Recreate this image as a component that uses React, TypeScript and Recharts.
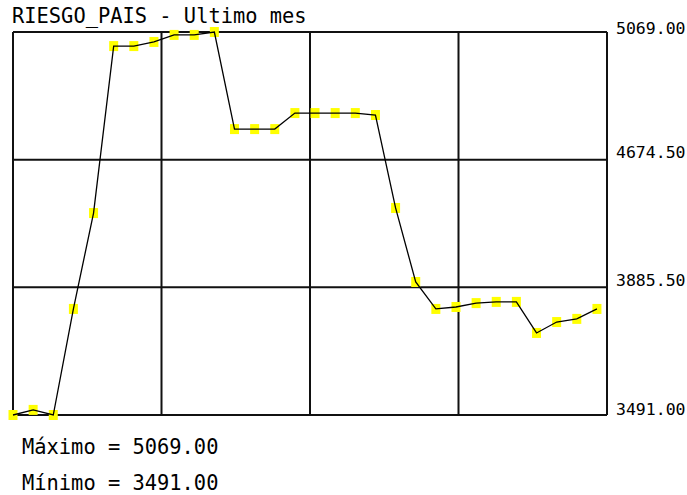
import { LineChart, Line, XAxis, YAxis, CartesianGrid } from 'recharts'

// Riesgo país, último mes (30 ruedas)
const dias = [
  0, 1, 2, 3, 4, 5, 6, 7, 8, 9, 10, 11, 12, 13, 14, 15, 16, 17, 18, 19, 20, 21, 22, 23, 24, 25, 26,
  27, 28, 29,
]
const riesgo = [
  3491, 3512, 3491, 3928, 4323, 5011, 5011, 5028, 5057, 5057, 5069, 4669, 4669, 4669, 4735, 4735,
  4735, 4735, 4727, 4344, 4039, 3928, 3936, 3952, 3957, 3957, 3829, 3874, 3887, 3928,
]

const MIN = 3491
const MAX = 5069
const yTicks = [MIN, MIN + (MAX - MIN) / 3, MIN + (2 * (MAX - MIN)) / 3, MAX]
// the original chart labels its inner lines with quarter values
const yLabels = ['3491.00', '3885.50', '4674.50', '5069.00']
const xMax = 29.5
const xTicks = [0, xMax / 4, xMax / 2, (3 * xMax) / 4, xMax]

const data = dias.map((d, i) => ({ dia: d, valor: riesgo[i] }))

const FONT = '"DejaVu Sans Mono", monospace'
const GRID = '#111'

function RightTick(props: any) {
  const { x, y, index } = props
  const shift = [0, -1, -2, 2][index] ?? 0
  return (
    <text x={x + 1} y={y + shift} fill="#000" fontSize={16.5} fontFamily={FONT}>
      {yLabels[index]}
    </text>
  )
}

function SquareDot(props: any) {
  const { cx, cy } = props
  if (cx == null || cy == null) return null
  return <rect x={cx - 4.5} y={cy - 5} width={9} height={10} fill="#ffff00" stroke="none" />
}

export default function App() {
  return (
    <div style={{ position: 'relative', width: 687, height: 495, background: '#fff' }}>
      <style>{`body{margin:0}`}</style>
      <div
        style={{
          position: 'absolute',
          left: 12,
          top: 5,
          fontFamily: FONT,
          fontSize: 20.4,
          lineHeight: '22px',
          color: '#000',
        }}
      >
        RIESGO_PAIS - Ultimo mes
      </div>
      <LineChart
        width={687}
        height={495}
        data={data}
        margin={{ top: 32, left: 13, right: 0, bottom: 80 }}
      >
        <CartesianGrid stroke={GRID} strokeWidth={2} />
        <XAxis dataKey="dia" type="number" domain={[0, xMax]} ticks={xTicks} hide />
        <YAxis
          orientation="right"
          type="number"
          domain={[MIN, MAX]}
          ticks={yTicks}
          width={80}
          axisLine={false}
          tickLine={false}
          tick={<RightTick />}
          interval={0}
        />
        <Line
          dataKey="valor"
          stroke="none"
          dot={<SquareDot />}
          activeDot={false}
          isAnimationActive={false}
          zIndex={300}
        />
        <Line
          dataKey="valor"
          type="linear"
          stroke="#000"
          strokeWidth={1.3}
          dot={false}
          activeDot={false}
          isAnimationActive={false}
          zIndex={700}
        />
      </LineChart>
      <div
        style={{
          position: 'absolute',
          left: 22,
          top: 429,
          fontFamily: FONT,
          fontSize: 20.4,
          lineHeight: '36px',
          color: '#000',
        }}
      >
        <div>Máximo = 5069.00</div>
        <div>Mínimo = 3491.00</div>
      </div>
    </div>
  )
}
